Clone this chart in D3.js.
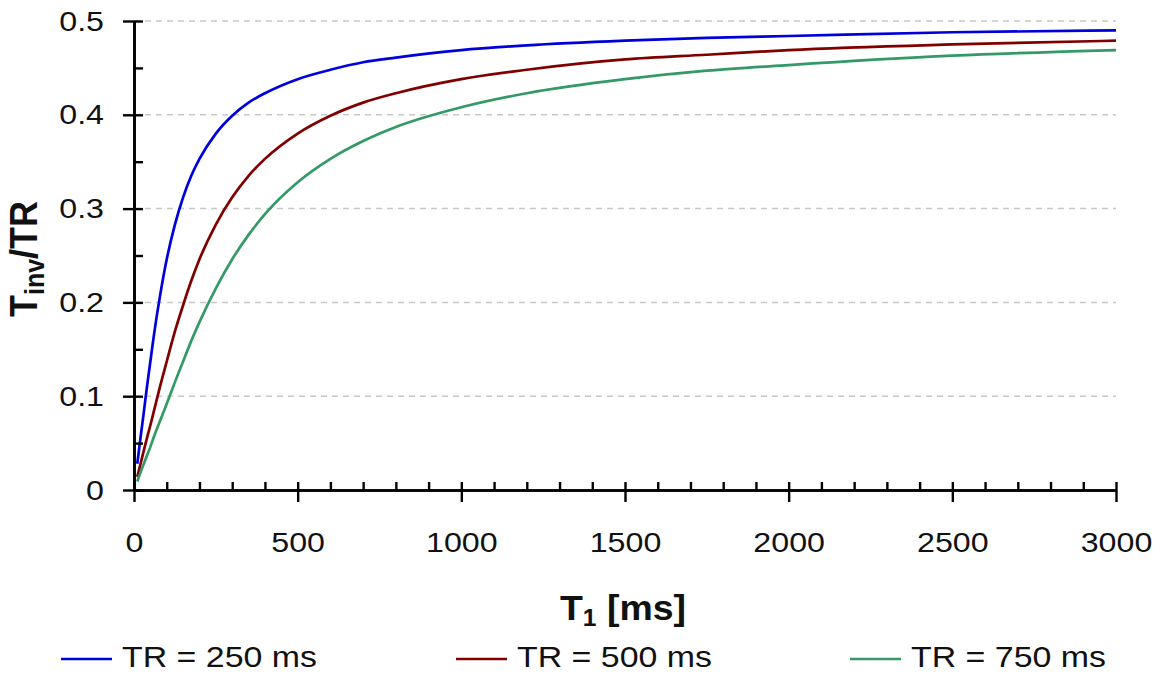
<!DOCTYPE html>
<html><head><meta charset="utf-8">
<script src="https://cdn.jsdelivr.net/npm/d3@7"></script>
<style>
html,body{margin:0;padding:0;background:#fff;}
svg{display:block;font-family:"Liberation Sans",Arial,sans-serif;}
</style></head>
<body><svg id="chart" width="1161" height="674"></svg>
<script>
// T1 sample points [ms]
const t1Values = [10,20,30,40,50,60,80,100,125,150,175,200,250,300,350,400,500,600,700,800,1000,1200,1500,1750,2000,2500,3000];
// Tinv/TR for each TR
const tr250 = [0.028,0.056,0.083,0.111,0.137,0.163,0.208,0.246,0.283,0.312,0.335,0.353,0.380,0.399,0.413,0.423,0.438,0.448,0.456,0.461,0.469,0.474,0.479,0.482,0.484,0.488,0.490];
const tr500 = [0.014,0.028,0.042,0.056,0.069,0.083,0.111,0.137,0.169,0.197,0.223,0.246,0.283,0.312,0.335,0.353,0.380,0.399,0.413,0.423,0.438,0.448,0.459,0.464,0.469,0.475,0.479];
const tr750 = [0.009,0.019,0.028,0.037,0.046,0.056,0.074,0.092,0.115,0.137,0.159,0.179,0.215,0.246,0.272,0.294,0.328,0.353,0.372,0.387,0.408,0.423,0.438,0.447,0.453,0.463,0.469];
const seriesNames = ["TR = 250 ms","TR = 500 ms","TR = 750 ms"];
const seriesColors = ["#0000dd","#800000","#339966"];
const xTicks = [0,500,1000,1500,2000,2500,3000];
const yTicks = [0,0.1,0.2,0.3,0.4,0.5];

const svg = d3.select("#chart");
const SX = 1.13, SXB = 1.07;
const x = d3.scaleLinear().domain([0,3000]).range([134,1116]);
const y = d3.scaleLinear().domain([0,0.5]).range([490,21]);

// gridlines
svg.append("g").selectAll("line").data(yTicks.filter(d=>d>0)).join("line")
  .attr("x1",x(0)).attr("x2",x(3000)).attr("y1",d=>y(d)).attr("y2",d=>y(d))
  .attr("stroke","#c8c8c8").attr("stroke-width",1.5).attr("stroke-dasharray","6,5");

// lines
const allSeries = [tr250,tr500,tr750];
const line = d3.line().curve(d3.curveMonotoneX).x((d,i)=>x(t1Values[i])).y(d=>y(d));
allSeries.forEach((s,k)=>{
  svg.append("path").datum(s).attr("d",line).attr("fill","none")
    .attr("stroke",seriesColors[k]).attr("stroke-width",2.7).attr("stroke-linejoin","round");
});

// axes
const minorY = d3.range(0,0.5001,0.05);
const minorX = d3.range(0,3001,100);
const yAxisOut = d3.axisLeft(y).tickValues(yTicks).tickSize(11).tickSizeOuter(0).tickPadding(19)
  .tickFormat(d=>d===0?"0":d3.format(".1f")(d));
const gy = svg.append("g").attr("transform",`translate(${x(0)},0)`).call(yAxisOut);
svg.append("g").attr("transform",`translate(${x(0)},0)`)
  .call(d3.axisRight(y).tickValues(minorY).tickSize(9).tickSizeOuter(0).tickFormat(""));
const xAxisOut = d3.axisBottom(x).tickValues(xTicks).tickSize(12).tickSizeOuter(0).tickPadding(30)
  .tickFormat(d3.format("d"));
const gx = svg.append("g").attr("transform",`translate(0,${y(0)})`).call(xAxisOut);
svg.append("g").attr("transform",`translate(0,${y(0)})`)
  .call(d3.axisTop(x).tickValues(minorX).tickSize(8).tickSizeOuter(0).tickFormat(""));

svg.selectAll(".domain").attr("stroke","#000").attr("stroke-width",2.6);
svg.selectAll(".tick line").attr("stroke","#000").attr("stroke-width",2.4);
gy.selectAll(".tick text").attr("font-size",28.5).attr("fill","#111")
  .attr("font-family","Liberation Sans, Arial, sans-serif")
  .attr("x",-30/SX).attr("transform",`scale(${SX},1)`);
gx.selectAll(".tick text").attr("font-size",28.5).attr("fill","#111")
  .attr("font-family","Liberation Sans, Arial, sans-serif")
  .attr("transform",`scale(${SX},1)`);

// x title
const xt = svg.append("text").attr("transform",`translate(623,620) scale(${SXB},1)`)
  .attr("text-anchor","middle").attr("font-weight","bold").attr("font-size",35).attr("fill","#111");
xt.append("tspan").text("T");
xt.append("tspan").attr("font-size",23).attr("dy",6).text("1");
xt.append("tspan").attr("dy",-6).text(" [ms]");

// y title
const yt = svg.append("text").attr("transform",`translate(37,259) scale(${SXB+0.03},1) rotate(-90)`)
  .attr("text-anchor","middle").attr("font-weight","bold").attr("font-size",36).attr("fill","#111");
yt.append("tspan").text("T");
yt.append("tspan").attr("font-size",25).attr("dy",6).text("inv");
yt.append("tspan").attr("dy",-6).text("/TR");

// legend
const legX = [61,456,850];
seriesNames.forEach((n,k)=>{
  const g = svg.append("g").attr("transform",`translate(${legX[k]},659)`);
  g.append("line").attr("x1",0).attr("x2",51).attr("y1",0).attr("y2",0)
    .attr("stroke",seriesColors[k]).attr("stroke-width",2.7);
  g.append("text").attr("transform",`translate(61,8) scale(${SX},1)`)
    .attr("font-size",30).attr("fill","#111").text(n);
});
</script></body></html>
